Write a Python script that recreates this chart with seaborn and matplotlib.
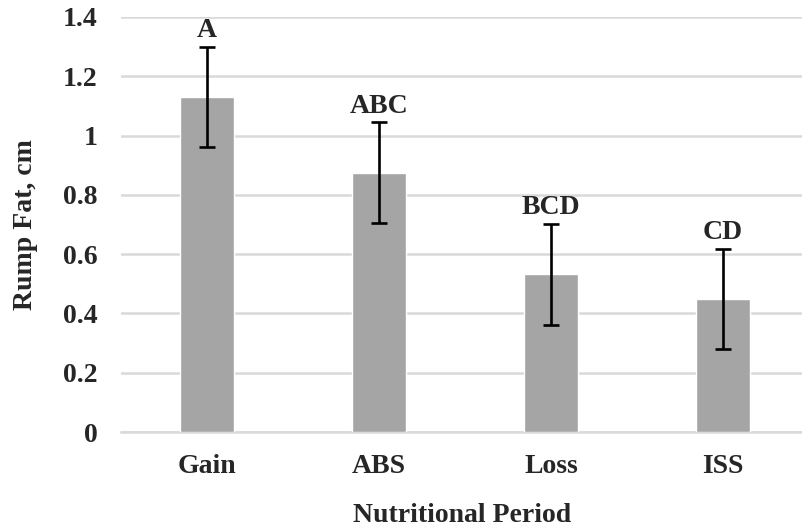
import matplotlib
matplotlib.use("Agg")
import matplotlib.pyplot as plt
import seaborn as sns
import pandas as pd

categories = ["Gain", "ABS", "Loss", "ISS"]
means = [1.13, 0.875, 0.532, 0.449]
errors = [0.17, 0.17, 0.17, 0.17]
letters = ["A", "ABC", "BCD", "CD"]
yticks = [0, 0.2, 0.4, 0.6, 0.8, 1.0, 1.2, 1.4]
ytick_labels = ["0", "0.2", "0.4", "0.6", "0.8", "1", "1.2", "1.4"]

sns.set_theme(style="white")
plt.rcParams["font.family"] = ["Liberation Serif", "DejaVu Serif"]
plt.rcParams["font.weight"] = "bold"

FS = 20

df = pd.DataFrame({"period": categories, "fat": means})

fig = plt.figure(figsize=(8.03, 5.31), dpi=100)
ax = fig.add_axes([121 / 803, 1 - 432 / 531, 1 - 121 / 803, (432 - 17) / 531])

sns.barplot(data=df, x="period", y="fat", color="#a5a5a5", saturation=1,
            width=0.31, errorbar=None, ax=ax, zorder=3)
ax.errorbar(range(len(categories)), means, yerr=errors, fmt="none",
            ecolor="black", elinewidth=1.9, capsize=5.5, capthick=1.9, zorder=4)

for i, (m, e, t) in enumerate(zip(means, errors, letters)):
    ax.annotate(t, xy=(i, m + e), xytext=(0, 7), textcoords="offset points",
                ha="center", va="baseline", fontsize=FS, fontweight="bold")

ax.set_ylim(0, 1.4)
ax.set_xlim(-0.5, 3.465)
ax.set_yticks(yticks)
ax.set_yticklabels(ytick_labels, fontsize=FS, fontweight="bold")
ax.set_xticks(range(len(categories)))
ax.set_xticklabels(categories, fontsize=FS, fontweight="bold")
ax.tick_params(axis="x", length=0, pad=16)
ax.tick_params(axis="y", length=0, pad=17)

ax.yaxis.grid(True, color="#d9d9d9", linewidth=1.8, zorder=0)
ax.set_axisbelow(True)
for s in ["top", "right", "left"]:
    ax.spines[s].set_visible(False)
ax.spines["bottom"].set_color("#d9d9d9")
ax.spines["bottom"].set_linewidth(1.8)

ax.set_xlabel("Nutritional Period", fontsize=FS, fontweight="bold", labelpad=17)
ax.set_ylabel("Rump Fat, cm", fontsize=FS, fontweight="bold", labelpad=18)

fig.savefig("out.png", dpi=100)
